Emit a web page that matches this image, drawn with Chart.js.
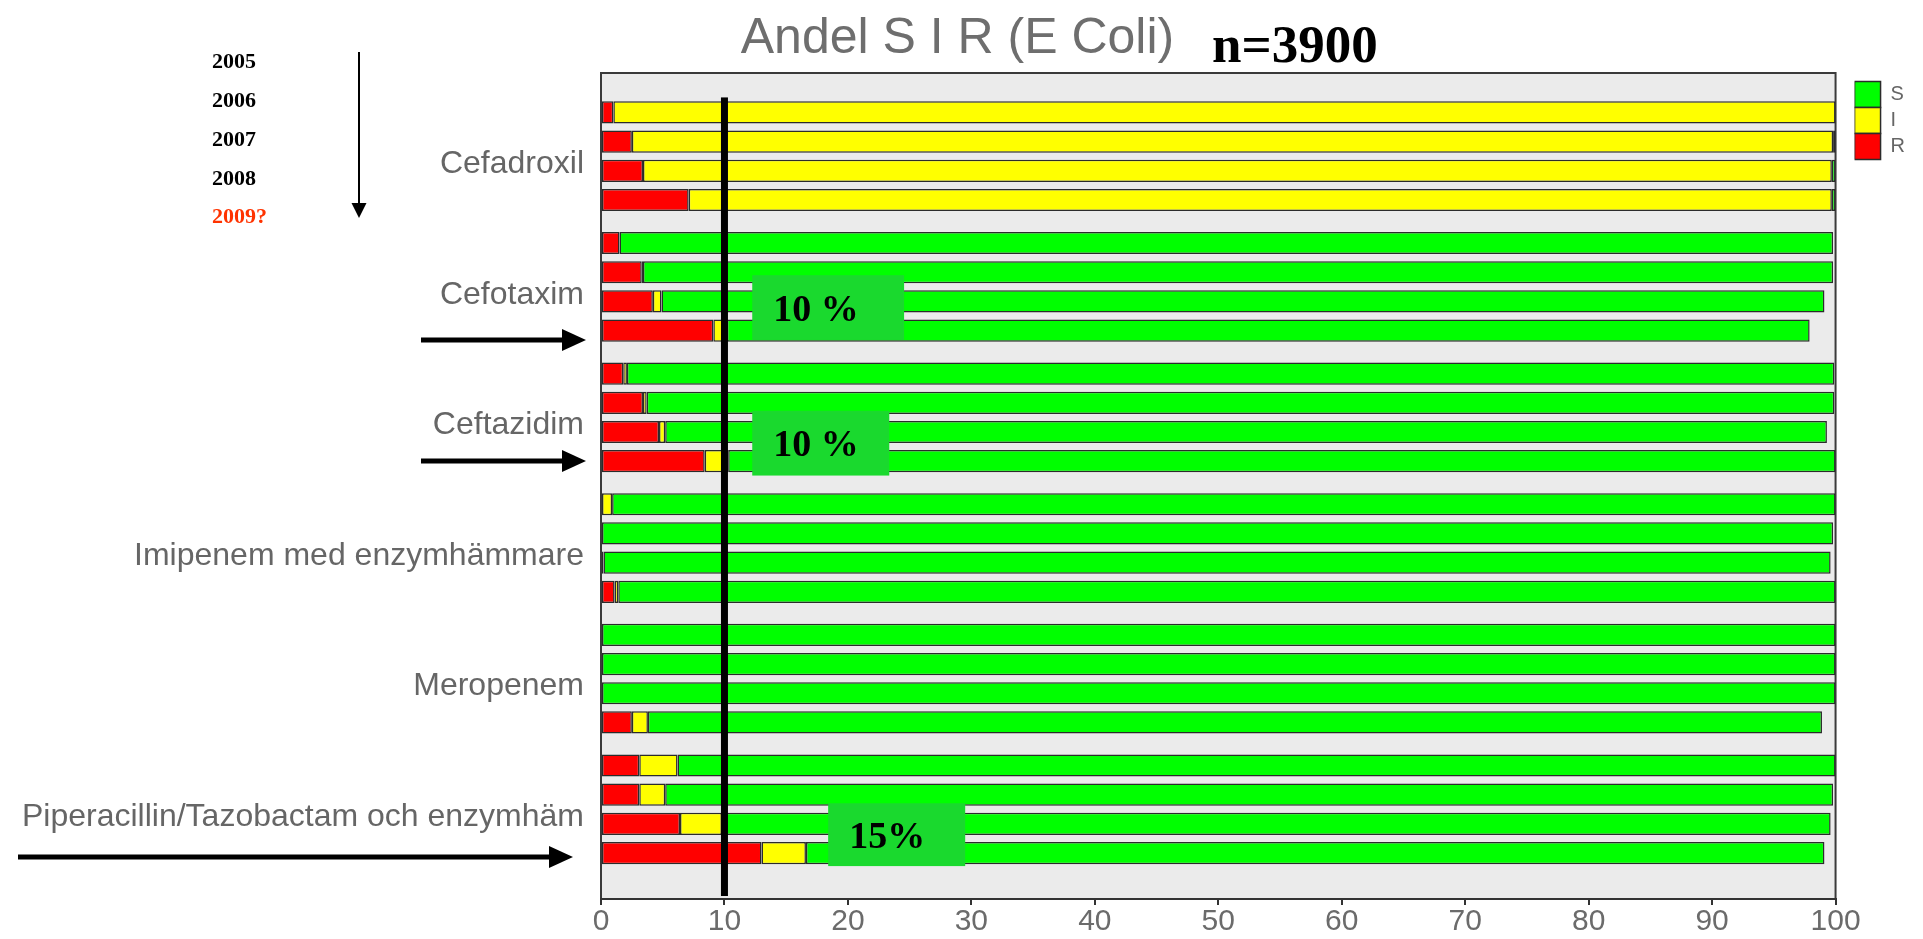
<!DOCTYPE html>
<html>
<head>
<meta charset="utf-8">
<script src="https://cdn.jsdelivr.net/npm/chart.js@4.4.1/dist/chart.umd.min.js"></script>
<style>
  html, body { margin: 0; padding: 0; background: #fff; }
  #wrap { width: 1923px; height: 939px; position: relative; }
</style>
</head>
<body>
<div id="wrap"><canvas id="sirChart"></canvas></div>
<script>
// preparat (en grupp per preparat, en stapel per år)
const drugs = [
  'Cefadroxil',
  'Cefotaxim',
  'Ceftazidim',
  'Imipenem med enzymhämmare',
  'Meropenem',
  'Piperacillin/Tazobactam och enzymhäm'
];
const years = ['2005', '2006', '2007', '2008'];

// andel i procent, en rad per år, värden i samma ordning som drugs
const rValues = [
  [1.0, 1.5, 1.8, 0.0, 0.0, 3.1],
  [2.5, 3.3, 3.4, 0.0, 0.0, 3.1],
  [3.4, 4.2, 4.7, 0.2, 0.0, 6.4],
  [7.1, 9.1, 8.4, 1.1, 2.5, 13.0]
];
const iValues = [
  [99.0, 0.0, 0.3, 0.9, 0.0, 3.1],
  [97.3, 0.1, 0.3, 0.0, 0.0, 2.1],
  [96.3, 0.7, 0.5, 0.0, 0.0, 3.4],
  [92.6, 1.1, 1.9, 0.3, 1.3, 3.6]
];
const sValues = [
  [0.0, 98.3, 97.8, 99.1, 100, 93.8],
  [0.2, 96.4, 96.2, 99.8, 100, 94.6],
  [0.3, 94.2, 94.1, 99.4, 100, 89.8],
  [0.3, 87.7, 89.7, 98.6, 95.1, 82.5]
];

const yearNotes = ['2005', '2006', '2007', '2008', '2009?'];
const limitValue = 10;

// gröna rutor (x i procent, y i gruppindex)
const noteBoxes = [
  { text: '10 %', x0: 12.25, x1: 24.55, y0: 0.911, y1: 1.407 },
  { text: '10 %', x0: 12.25, x1: 23.35, y0: 1.949, y1: 2.445 },
  { text: '15%', x0: 18.4, x1: 29.5, y0: 4.954, y1: 5.435 }
];

const colors = { R: '#ff0000', I: '#ffff00', S: '#00ff00' };
const sansFont = '"Liberation Sans", Arial, sans-serif';
const serifFont = '"Liberation Serif", "Times New Roman", serif';

const datasets = [];
years.forEach((yr, k) => {
  [['R', rValues], ['I', iValues], ['S', sValues]].forEach(([lab, arr]) => {
    datasets.push({
      label: lab,
      data: arr[k],
      stack: yr,
      yAxisID: 'y',
      backgroundColor: colors[lab],
      borderColor: '#2b2b2b',
      borderWidth: 1.5,
      borderSkipped: false
    });
  });
});

function drawArrow(ctx, x0, y0, x1, y1, lw, headLen, headHalf) {
  const ang = Math.atan2(y1 - y0, x1 - x0);
  const bx = x1 - headLen * Math.cos(ang);
  const by = y1 - headLen * Math.sin(ang);
  ctx.lineWidth = lw;
  ctx.beginPath();
  ctx.moveTo(x0, y0);
  ctx.lineTo(bx, by);
  ctx.stroke();
  ctx.beginPath();
  ctx.moveTo(x1, y1);
  ctx.lineTo(bx - headHalf * Math.sin(ang), by + headHalf * Math.cos(ang));
  ctx.lineTo(bx + headHalf * Math.sin(ang), by - headHalf * Math.cos(ang));
  ctx.closePath();
  ctx.fill();
}

const overlay = {
  id: 'overlay',
  beforeDraw(chart) {
    const { ctx, chartArea: a } = chart;
    ctx.save();
    ctx.fillStyle = '#ebebeb';
    ctx.fillRect(a.left, a.top, a.width, a.height);
    ctx.strokeStyle = '#3a3a3a';
    ctx.lineWidth = 2;
    ctx.strokeRect(a.left, a.top, a.width, a.height);
    ctx.restore();
  },
  afterDatasetsDraw(chart) {
    const { ctx, chartArea: a } = chart;
    const xs = chart.scales.x, ys = chart.scales.y;
    ctx.save();
    // 10 %-gränsen
    const lx = xs.getPixelForValue(limitValue);
    const top = ys.getPixelForValue(-0.45);
    ctx.fillStyle = '#000';
    ctx.fillRect(lx - 3.5, top, 7, a.bottom - 3 - top);
    // gröna rutor
    noteBoxes.forEach(b => {
      const l = xs.getPixelForValue(b.x0), r = xs.getPixelForValue(b.x1);
      const t = ys.getPixelForValue(b.y0), btm = ys.getPixelForValue(b.y1);
      ctx.fillStyle = '#1ad92e';
      ctx.fillRect(l, t, r - l, btm - t);
      ctx.fillStyle = '#000';
      ctx.font = 'bold 38px ' + serifFont;
      ctx.textAlign = 'left';
      ctx.textBaseline = 'alphabetic';
      ctx.fillText(b.text, l + 21, (t + btm) / 2 + 13);
    });
    ctx.restore();
  },
  afterDraw(chart) {
    const { ctx } = chart;
    ctx.save();
    ctx.fillStyle = '#000';
    ctx.strokeStyle = '#000';
    ctx.textAlign = 'left';
    ctx.textBaseline = 'alphabetic';
    ctx.font = 'bold 53px ' + serifFont;
    ctx.fillText('n=3900', 1212, 62);

    ctx.font = 'bold 22px ' + serifFont;
    const base = [68, 107, 146, 185, 223];
    yearNotes.forEach((t, i) => {
      ctx.fillStyle = i === yearNotes.length - 1 ? '#ff3300' : '#000';
      ctx.fillText(t, 212, base[i]);
    });
    ctx.fillStyle = '#000';
    drawArrow(ctx, 359, 52, 359, 218, 2, 15, 7.5);

    drawArrow(ctx, 421, 340, 586, 340, 5, 24, 11);
    drawArrow(ctx, 421, 461, 586, 461, 5, 24, 11);
    drawArrow(ctx, 18, 857, 573, 857, 5, 24, 11);
    ctx.restore();
  }
};

const ctx = document.getElementById('sirChart').getContext('2d');
new Chart(ctx, {
  type: 'bar',
  data: {
    labels: drugs.map((_, i) => i),
    datasets: datasets
  },
  options: {
    indexAxis: 'y',
    responsive: true,
    maintainAspectRatio: false,
    animation: false,
    categoryPercentage: 0.894,
    barPercentage: 0.76,
    layout: { padding: { left: 0, right: 8, top: 0, bottom: 0 } },
    scales: {
      x: {
        type: 'linear',
        stacked: true,
        min: 0,
        max: 100,
        ticks: {
          stepSize: 10,
          padding: 2,
          color: '#6b6b6b',
          font: { family: sansFont, size: 30, lineHeight: 1.0 }
        },
        grid: {
          drawOnChartArea: false,
          drawTicks: true,
          tickLength: 6,
          color: '#333',
          lineWidth: 2
        },
        border: { display: true, color: '#333', width: 2 }
      },
      y: {
        type: 'linear',
        reverse: true,
        offset: false,
        grace: 0,
        min: -0.637,
        max: 5.687,
        ticks: {
          stepSize: 1,
          includeBounds: false,
          autoSkip: false,
          padding: 17,
          labelOffset: 8,
          color: '#666',
          font: { family: sansFont, size: 32 },
          callback: v => (drugs[v] !== undefined ? drugs[v] : '')
        },
        grid: { display: false, drawTicks: false, offset: false },
        border: { display: false },
        afterFit: s => { s.width = 601; }
      },
      gap: {
        type: 'linear',
        position: 'right',
        display: true,
        ticks: { display: false },
        grid: { display: false, drawTicks: false },
        border: { display: false },
        afterFit: s => { s.width = 19; }
      }
    },
    plugins: {
      title: {
        display: true,
        text: 'Andel S I R (E Coli)',
        color: '#6e6e6e',
        font: { family: sansFont, size: 50, weight: 'normal', lineHeight: 1.0 },
        padding: { top: 14, bottom: 9 }
      },
      legend: {
        position: 'right',
        align: 'start',
        fullSize: false,
        reverse: true,
        title: { display: true, text: '', font: { size: 7 }, padding: 0 },
        labels: {
          boxWidth: 26,
          boxHeight: 26,
          padding: 0,
          color: '#666',
          font: { family: sansFont, size: 20 },
          filter: item => item.datasetIndex < 3
        }
      },
      tooltip: { enabled: false }
    }
  },
  plugins: [overlay]
});
</script>
</body>
</html>
